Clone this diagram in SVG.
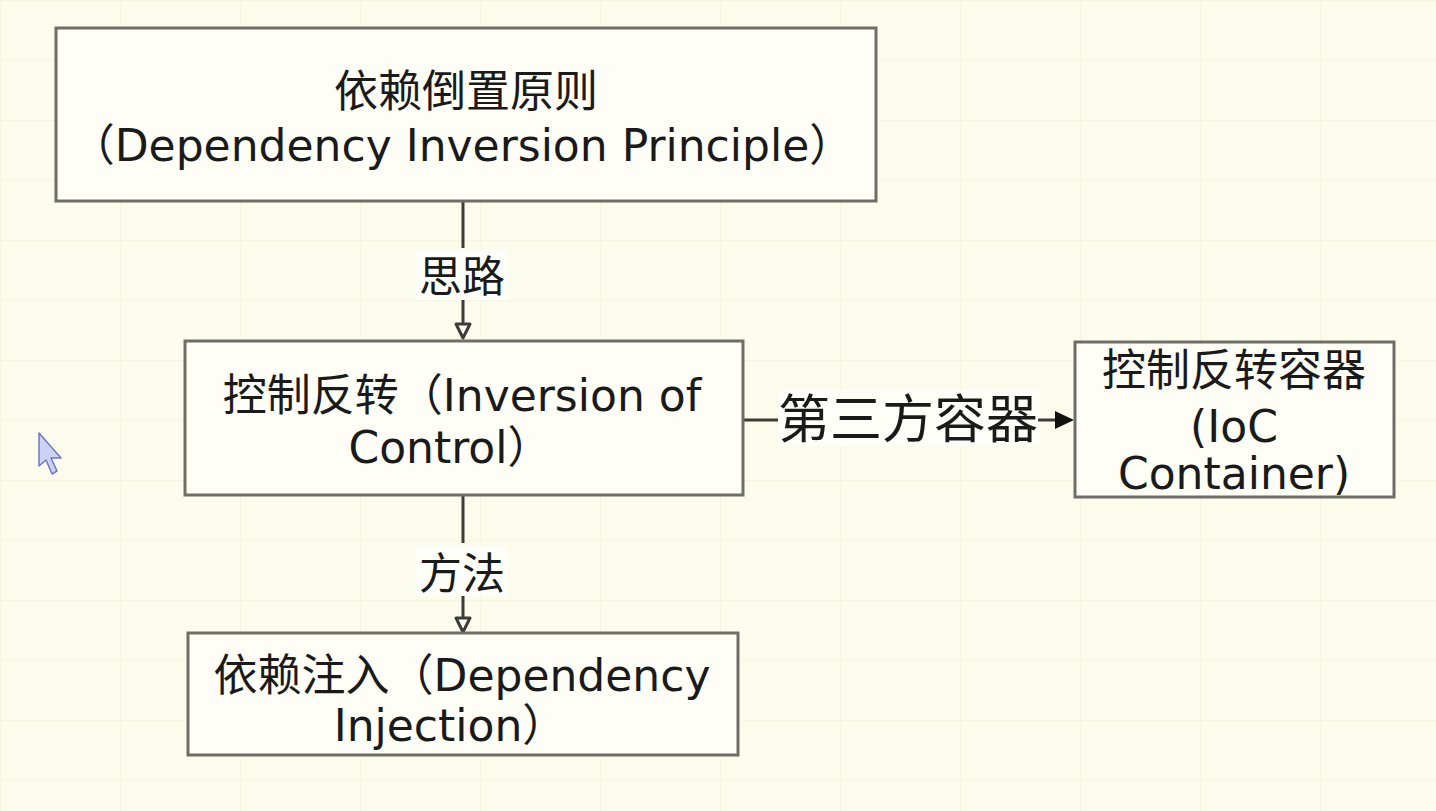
<svg xmlns="http://www.w3.org/2000/svg" width="1436" height="811" viewBox="0 0 1436 811">
<defs>
<style>
.bg{fill:#fcfcec}
.box{fill:#fefef6;stroke:#6e6d66;stroke-width:3}
.t{font-family:"DejaVu Sans","Noto Sans CJK SC",sans-serif;font-size:44px;fill:#1a1a1a;text-anchor:middle}
.lbl{font-family:"Noto Sans CJK SC","DejaVu Sans",sans-serif;fill:#1a1a1a;text-anchor:middle}
.ln{stroke:#3c3c38;stroke-width:3;fill:none}
.lb{fill:#fefef8}
</style>
<pattern id="grid" width="120" height="60" patternUnits="userSpaceOnUse">
<path d="M0 0H120M0 0V60" stroke="#f5f5e2" stroke-width="2" fill="none"/>
</pattern>
</defs>
<rect class="bg" x="0" y="0" width="1436" height="811"/>
<rect x="0" y="0" width="1436" height="811" fill="url(#grid)"/>

<g id="connectors">
  <line class="ln" x1="463" y1="202" x2="463" y2="248"/>
  <rect class="lb" x="416" y="250" width="92" height="50"/>
  <text class="lbl" x="462" y="292" font-size="43">思路</text>
  <line class="ln" x1="463" y1="300" x2="463" y2="326"/>
  <polygon points="456,324 470,324 463,338" fill="#fefef6" stroke="#3c3c38" stroke-width="3" stroke-linejoin="round"/>

  <line class="ln" x1="744" y1="420" x2="778" y2="420"/>
  <rect class="lb" x="778" y="390" width="262" height="56"/>
  <text class="lbl" x="908" y="438" font-size="52">第三方容器</text>
  <line class="ln" x1="1038" y1="420" x2="1058" y2="420"/>
  <polygon points="1055,411 1074,420 1055,429" fill="#111"/>

  <line class="ln" x1="463" y1="496" x2="463" y2="543"/>
  <rect class="lb" x="416" y="546" width="92" height="50"/>
  <text class="lbl" x="462" y="589" font-size="43">方法</text>
  <line class="ln" x1="463" y1="596" x2="463" y2="620"/>
  <polygon points="456,618 470,618 463,632" fill="#fefef6" stroke="#3c3c38" stroke-width="3" stroke-linejoin="round"/>
</g>

<g id="dip">
  <rect class="box" x="56" y="28" width="820" height="173"/>
  <text class="t" x="466" y="107">依赖倒置原则</text>
  <text class="t" x="462" y="161">（Dependency Inversion Principle）</text>
</g>

<g id="ioc">
  <rect class="box" x="185" y="341" width="558" height="154"/>
  <text class="t" x="462" y="411">控制反转（Inversion of</text>
  <text class="t" x="450" y="463">Control）</text>
</g>

<g id="container">
  <rect class="box" x="1075" y="342" width="319" height="155"/>
  <text class="t" x="1234" y="386">控制反转容器</text>
  <text class="t" x="1234" y="442" font-size="45">(IoC</text>
  <text class="t" x="1234" y="489" font-size="45">Container)</text>
</g>

<g id="di">
  <rect class="box" x="188" y="633" width="550" height="122"/>
  <text class="t" x="462" y="691">依赖注入（Dependency</text>
  <text class="t" x="450" y="741">Injection）</text>
</g>

<g id="cursor">
  <polygon points="39,433 39,466 46,460 52,474 57,471 51,458 61,458" fill="#cdd2f2" stroke="#6f78c4" stroke-width="1.5" stroke-linejoin="round"/>
</g>
</svg>
